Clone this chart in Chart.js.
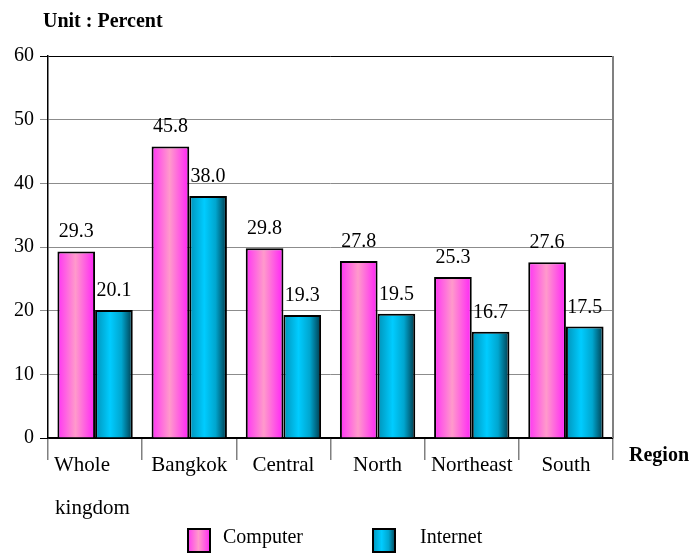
<!DOCTYPE html>
<html>
<head>
<meta charset="utf-8">
<title>Computer and Internet use by region</title>
<script src="https://cdn.jsdelivr.net/npm/chart.js@4/dist/chart.umd.min.js"></script>
<style>
    body { margin: 0; background: #fff; }
    canvas { display: block; }
</style>
</head>
<body>
<canvas id="regionChart" width="693" height="553"></canvas>
<script>
// Regions and percentages (trailing spaces nudge the two-line label left)
const regions = [['Whole     ', 'kingdom '], 'Bangkok', 'Central', 'North', 'Northeast', 'South'];
const computerPct = [29.3, 45.8, 29.8, 27.8, 25.3, 27.6];
const internetPct = [20.1, 38.0, 19.3, 19.5, 16.7, 17.5];
const yTicks = [0, 10, 20, 30, 40, 50, 60];

const FONT = "'Liberation Serif', 'Times New Roman', serif";
const CAT_PCT = 0.8;

// Horizontal shading for each bar so it looks like a rounded column
function pinkStops(g) {
    g.addColorStop(0, '#ff33f5');
    g.addColorStop(0.48, '#ff9acb');
    g.addColorStop(1, '#ff22f8');
}
function cyanStops(g) {
    g.addColorStop(0, '#0092b8');
    g.addColorStop(0.4, '#00ccff');
    g.addColorStop(0.7, '#00a6cf');
    g.addColorStop(1, '#00394a');
}

function barFill(stops, fallback) {
    return function (ctx) {
        const chart = ctx.chart;
        const xs = chart.scales.x;
        if (ctx.type !== 'data' || !xs) return fallback;
        const center = xs.getPixelForValue(ctx.dataIndex);
        const barW = xs.width / regions.length * CAT_PCT / 2;
        const left = ctx.datasetIndex === 0 ? center - barW : center;
        if (!isFinite(left) || !isFinite(barW) || barW <= 0) return fallback;
        const g = chart.ctx.createLinearGradient(left, 0, left + barW, 0);
        stops(g);
        return g;
    };
}

// Value printed over each bar
const valueLabels = {
    id: 'valueLabels',
    afterDatasetsDraw(chart) {
        const c = chart.ctx;
        c.save();
        c.font = '20px ' + FONT;
        c.fillStyle = '#000';
        c.textAlign = 'center';
        c.textBaseline = 'alphabetic';
        chart.data.datasets.forEach((ds, di) => {
            chart.getDatasetMeta(di).data.forEach((bar, i) => {
                c.fillText(ds.data[i].toFixed(1), bar.x, bar.y - 14);
            });
        });
        c.restore();
    }
};

// Frame, unit caption, axis name and legend
const decorations = {
    id: 'decorations',
    afterDraw(chart) {
        const c = chart.ctx;
        const a = chart.chartArea;
        c.save();
        c.strokeStyle = '#808080';
        c.lineWidth = 2;
        c.beginPath();
        c.moveTo(a.right, a.top);
        c.lineTo(a.right, a.bottom);
        c.stroke();

        c.fillStyle = '#000';
        c.font = 'bold 20px ' + FONT;
        c.textBaseline = 'middle';
        c.textAlign = 'left';
        c.fillText('Unit : Percent', 43, 22);
        c.fillText('Region', 629, 456);

        const items = [
            { x: 187, textX: 223, stops: pinkStops },
            { x: 372, textX: 420, stops: cyanStops }
        ];
        c.font = '20px ' + FONT;
        items.forEach((it, i) => {
            const g = c.createLinearGradient(it.x, 0, it.x + 24, 0);
            it.stops(g);
            c.fillStyle = g;
            c.fillRect(it.x, 528, 24, 25);
            c.strokeStyle = '#000';
            c.lineWidth = 2;
            c.strokeRect(it.x + 1, 529, 22, 23);
            c.fillStyle = '#000';
            c.fillText(chart.data.datasets[i].label, it.textX, 538);
        });
        c.restore();
    }
};

const ctx = document.getElementById('regionChart').getContext('2d');
new Chart(ctx, {
    type: 'bar',
    data: {
        labels: regions,
        datasets: [
            {
                label: 'Computer',
                data: computerPct,
                backgroundColor: barFill(pinkStops, '#ff99cc'),
                borderColor: '#000',
                borderWidth: 2
            },
            {
                label: 'Internet',
                data: internetPct,
                backgroundColor: barFill(cyanStops, '#00ccff'),
                borderColor: '#000',
                borderWidth: 2
            }
        ]
    },
    options: {
        responsive: false,
        animation: false,
        events: [],
        datasets: {
            bar: { categoryPercentage: CAT_PCT, barPercentage: 1.0 }
        },
        layout: { padding: { top: 56, right: 80, left: 0, bottom: 0 } },
        plugins: {
            legend: { display: false },
            tooltip: { enabled: false }
        },
        scales: {
            x: {
                offset: true,
                afterFit: s => { s.height = 115; },
                border: { color: '#000', width: 1.5 },
                grid: {
                    offset: true,
                    drawOnChartArea: false,
                    tickLength: 22,
                    color: '#808080',
                    lineWidth: 1.5
                },
                ticks: {
                    color: '#000',
                    padding: -16,
                    maxRotation: 0,
                    autoSkip: false,
                    font: { family: FONT, size: 21, lineHeight: 2.05 }
                }
            },
            y: {
                min: yTicks[0],
                max: yTicks[yTicks.length - 1],
                afterFit: s => { s.width = 48; },
                afterBuildTicks: s => { s.ticks = yTicks.map(v => ({ value: v })); },
                border: { color: '#000', width: 1.5 },
                grid: {
                    tickLength: 8,
                    color: c => (c.tick && (c.tick.value === 0 || c.tick.value === 60)) ? '#000' : '#8c8c8c',
                    lineWidth: 1
                },
                ticks: {
                    color: '#000',
                    padding: 6,
                    font: { family: FONT, size: 20 }
                }
            }
        }
    },
    plugins: [valueLabels, decorations]
});
</script>
</body>
</html>
